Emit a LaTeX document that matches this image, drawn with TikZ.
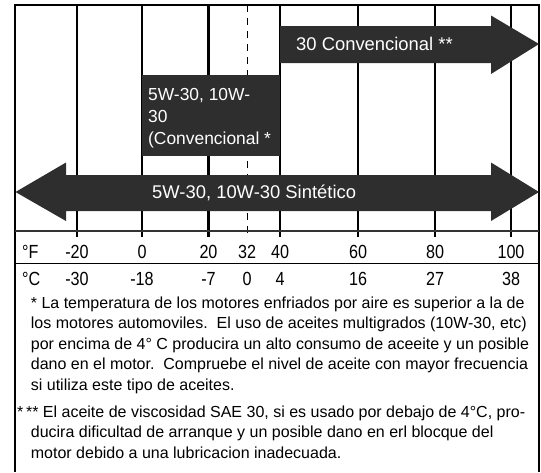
\documentclass[tikz,border=0pt]{standalone}
\usepackage{fontspec}
\setmainfont{Liberation Sans}
\newcommand\narrow[1]{\scalebox{0.85}[1]{#1}}
\begin{document}
\begin{tikzpicture}[x=1pt,y=-1pt,
  band/.style={fill=black!82,draw=none},
  bandtext/.style={text=white,font=\fontsize{18.4}{22}\selectfont,inner sep=0pt},
  temp/.style={font=\fontsize{19}{19}\selectfont,inner sep=0pt,anchor=base},
  note/.style={font=\fontsize{16}{20.5}\selectfont,inner sep=0pt,align=left,anchor=base west}]
\useasboundingbox (0,0) rectangle (541,472);
% frame and temperature grid
\draw[line width=2pt] (15,472)--(15,5)--(539,5)--(539,472);
\foreach \gx in {77,142,208.5,280,358,435,511}
  \draw[line width=2.4pt] (\gx,5)--(\gx,237);
\draw[line width=1pt,dash pattern=on 7pt off 6pt] (247,5)--(247,237);
\draw[line width=2.8pt,black!80] (15,231)--(539,231);
\draw[line width=0.8pt] (15,263)--(539,263);
% oil bands
\fill[band] (280,26)--(491,26)--(491,15.5)--(539,44)--(491,74)--(491,63)--(280,63)--cycle;
\fill[band] (142,75) rectangle (280,156);
\fill[band] (15.5,192)--(66,162.5)--(66,175)--(491,175)--(491,162.5)--(539,192)--(491,221)--(491,211)--(66,211)--(66,221)--cycle;
\node[bandtext,anchor=west] (conv30) at (296,44) {30 Convencional **};
\node[bandtext,anchor=base west,align=left,font=\fontsize{17.4}{22}\selectfont] (convmulti) at (148,144) {5W-30, 10W-\\30\\(Convencional *};
\node[bandtext,anchor=west] (synth) at (152,193) {5W-30, 10W-30 Sintético};
% scales
\node[temp,anchor=base west] (unitF) at (22,258) {\narrow{°F}};
\node[temp,anchor=base west] (unitC) at (22,285) {\narrow{°C}};
\foreach \gx/\tf/\tc [count=\i] in {77/-20/-30,142/0/-18,208.5/20/-7,247/32/0,280/40/4,358/60/16,435/80/27,511/100/38}{
  \node[temp] (f\i) at (\gx,258) {\narrow{\tf}};
  \node[temp] (c\i) at (\gx,285) {\narrow{\tc}};
}
% notes
\node[note] (note1) at (30.7,390) {* La temperatura de los motores enfriados por aire es superior a la de\\
los motores automoviles.\ \ El uso de aceites multigrados (10W-30, etc)\\
por encima de 4° C producira un alto consumo de aceeite y un posible\\
dano en el motor.\ \ Compruebe el nivel de aceite con mayor frecuencia\\
si utiliza este tipo de aceites.};
\node[note] (note2) at (17,458) {*\,** El aceite de viscosidad SAE 30, si es usado por debajo de 4°C, pro-\\
\hspace*{13.7pt}ducira dificultad de arranque y un posible dano en erl blocque del\\
\hspace*{13.7pt}motor debido a una lubricacion inadecuada.};
\end{tikzpicture}
\end{document}
